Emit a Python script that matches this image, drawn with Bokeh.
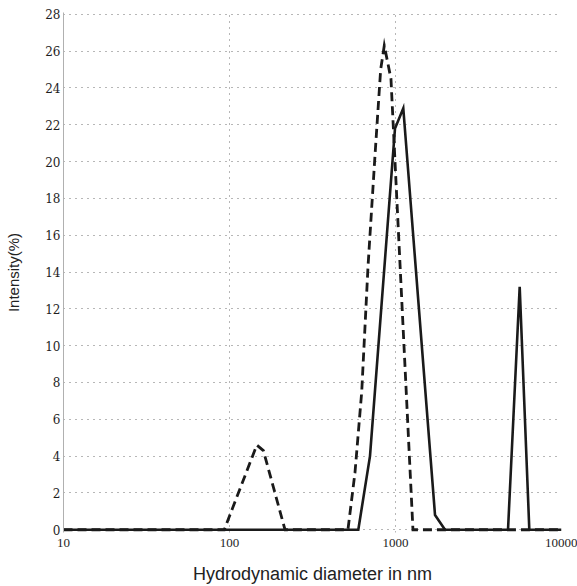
from bokeh.plotting import figure
from bokeh.models import Range1d, FixedTicker, NumeralTickFormatter
from bokeh.embed import file_html
from bokeh.resources import INLINE

# Hydrodynamic diameter (nm) and intensity (%)
solid_size = [10, 597, 702, 993, 1114, 1730, 1987, 4762, 5599, 6399, 10000]
solid_int = [0, 0, 4.0, 21.8, 22.9, 0.8, 0, 0, 13.2, 0, 0]

dashed_size = [10, 93, 146, 160, 216, 517, 570, 626, 683, 752, 814, 856, 939, 1274, 10000]
dashed_int = [0, 0, 4.6, 4.3, 0, 0, 3.1, 7.5, 14.3, 20.3, 25.0, 26.3, 24.5, 0, 0]

x_ticks = [10, 100, 1000, 10000]
y_ticks = [0, 2, 4, 6, 8, 10, 12, 14, 16, 18, 20, 22, 24, 26, 28]

p = figure(width=577, height=586, x_axis_type="log",
           x_range=Range1d(10, 10000), y_range=Range1d(-0.15, 28.1),
           output_backend="svg", toolbar_location=None,
           min_border_left=63, min_border_right=16,
           min_border_top=12, min_border_bottom=53)
p.outline_line_color = None
p.background_fill_color = "white"
p.border_fill_color = "white"

# axes
p.xaxis.ticker = FixedTicker(ticks=x_ticks, minor_ticks=[])
p.xaxis.formatter = NumeralTickFormatter(format="0")
p.yaxis.ticker = FixedTicker(ticks=y_ticks, minor_ticks=[])
for ax in (p.xaxis, p.yaxis):
    ax.major_tick_line_color = None
    ax.minor_tick_line_color = None
    ax.major_tick_out = 0
    ax.major_tick_in = 0
    ax.minor_tick_out = 0
    ax.minor_tick_in = 0
    ax.major_label_text_color = "#1e1e1e"
    ax.axis_label_text_font = "Liberation Sans"
    ax.axis_label_text_font_style = "normal"
    ax.axis_label_text_color = "#222222"
p.xaxis.major_label_text_font = "Liberation Serif"
p.xaxis.major_label_text_font_size = "13px"
p.yaxis.major_label_text_font = "DejaVu Serif"
p.yaxis.major_label_text_font_size = "12px"
p.xaxis.axis_line_color = None
p.yaxis.axis_line_color = "#b0b0b0"
p.yaxis.axis_line_width = 1
p.xaxis.axis_label = "Hydrodynamic diameter in nm"
p.xaxis.axis_label_text_font_size = "18px"
p.xaxis.major_label_standoff = 6
p.xaxis.axis_label_standoff = 14
p.yaxis.axis_label = "Intensity(%)"
p.yaxis.axis_label_text_font_size = "15px"
p.yaxis.major_label_standoff = 3
p.yaxis.axis_label_standoff = 20

# dotted grid
for g in (p.xgrid, p.ygrid):
    g.grid_line_color = "#6e6e6e"
    g.grid_line_dash = "1 5"
    g.grid_line_width = 1
p.ygrid.ticker = FixedTicker(ticks=y_ticks, minor_ticks=[])
p.xgrid.ticker = FixedTicker(ticks=x_ticks[1:], minor_ticks=[])

# data
p.line(dashed_size, dashed_int, line_color="#1a1a1a", line_width=2.8,
       line_dash="9 5", line_join="miter")
p.line(solid_size, solid_int, line_color="#1a1a1a", line_width=2.6,
       line_join="miter")

open("out.html", "w").write(file_html(p, INLINE))
